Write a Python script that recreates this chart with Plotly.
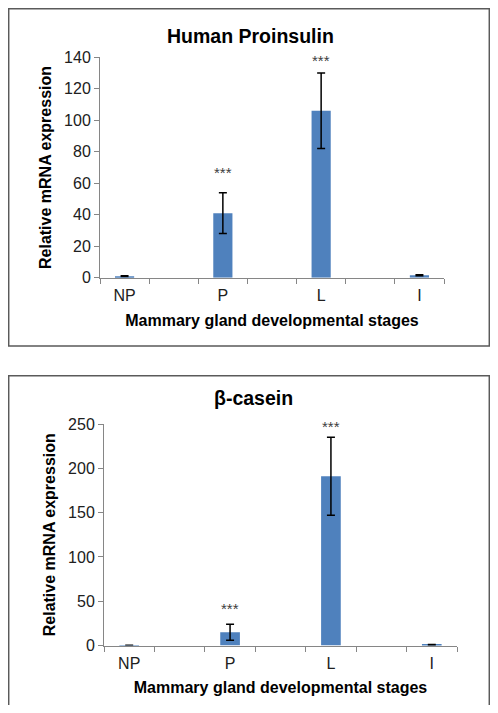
import plotly.graph_objects as go

# categories (blank slots between stages, as in the original Excel chart)
categories = ["NP", " ", "P", "  ", "L", "   ", "I"]

# Human Proinsulin
proins_values = [1.0, None, 41, None, 106, None, 1.5]
proins_errors = [0.3, None, 13, None, 24, None, 0.3]
proins_stars = ["", "", "***", "", "***", "", ""]
proins_star_y = [None, None, 67, None, 138, None, None]

# beta-casein
casein_values = [0.2, None, 15, None, 191, None, 0.6]
casein_errors = [0.1, None, 9, None, 44, None, 0.5]
casein_stars = ["", "", "***", "", "***", "", ""]
casein_star_y = [None, None, 42, None, 247, None, None]

# page body has an 8px margin: shift by it and keep the page from scrolling
OFF = 8
W, H = 498 - 2 * OFF, 713 - 2 * OFF
BAR = "#4F81BD"
AXIS = "#868686"
FONT = "Liberation Sans, Arial, sans-serif"


def px_x(x):
    return (x - OFF) / W


def px_y(y):
    return 1 - (y - OFF) / H


fig = go.Figure()

panels = [
    ("x", "y", proins_values, proins_errors, proins_stars, proins_star_y),
    ("x2", "y2", casein_values, casein_errors, casein_stars, casein_star_y),
]
for xa, ya, vals, errs, stars, star_y in panels:
    fig.add_trace(go.Bar(
        x=categories, y=vals, xaxis=xa, yaxis=ya,
        marker=dict(color=BAR, line=dict(width=0)),
        error_y=dict(type="data", array=errs, visible=True,
                     color="black", thickness=1.5, width=4),
        showlegend=False,
    ))
    for c, s, sy in zip(categories, stars, star_y):
        if s:
            fig.add_annotation(x=c, y=sy, xref=xa, yref=ya, text=s,
                               showarrow=False,
                               font=dict(size=15, color="#404040", family=FONT))

axis_common = dict(showline=True, linecolor=AXIS, linewidth=1, ticks="outside",
                   tickcolor=AXIS, ticklen=5, showgrid=False, zeroline=False,
                   automargin=False,
                   tickfont=dict(size=16, color="#202020", family=FONT))

xtitle = dict(text="<b>Mammary gland developmental stages</b>",
              font=dict(size=16, color="black", family=FONT), standoff=11)
ytitle = dict(text="<b>Relative mRNA expression</b>",
              font=dict(size=16, color="black", family=FONT), standoff=8)

fig.update_layout(
    width=W, height=H,
    margin=dict(l=0, r=0, t=0, b=0),
    plot_bgcolor="white", paper_bgcolor="white",
    bargap=0.61,
    font=dict(family=FONT),
    xaxis=dict(domain=[px_x(100), px_x(444)], anchor="y", tickson="boundaries",
               ticklabelstandoff=3, title=xtitle, **axis_common),
    yaxis=dict(domain=[px_y(277.7), px_y(57.3)], anchor="x", range=[0, 140],
               dtick=20, title=ytitle, **axis_common),
    xaxis2=dict(domain=[px_x(104), px_x(457)], anchor="y2", tickson="boundaries",
                ticklabelstandoff=3, title=xtitle, **axis_common),
    yaxis2=dict(domain=[px_y(645.5), px_y(424)], anchor="x2", range=[0, 250],
                dtick=50, title=ytitle, **axis_common),
)

# chart titles
fig.add_annotation(x=px_x(250), y=px_y(23), xref="paper", yref="paper",
                   text="<b>Human Proinsulin</b>", showarrow=False,
                   font=dict(size=19.5, color="black", family=FONT))
fig.add_annotation(x=px_x(254), y=px_y(398), xref="paper", yref="paper",
                   text="<b>β-casein</b>", showarrow=False,
                   font=dict(size=19.5, color="black", family=FONT))

# panel borders (edges that fall in the page margin are clamped)
fig.add_shape(type="rect", xref="paper", yref="paper",
              x0=px_x(8.7), x1=px_x(489.3), y0=px_y(346), y1=px_y(8.7),
              line=dict(color="#5a5a5a", width=1.5))
fig.add_shape(type="rect", xref="paper", yref="paper",
              x0=px_x(8.7), x1=px_x(489.3), y0=px_y(730), y1=px_y(375.7),
              line=dict(color="#5a5a5a", width=1.5))

fig.write_html("out.html")
